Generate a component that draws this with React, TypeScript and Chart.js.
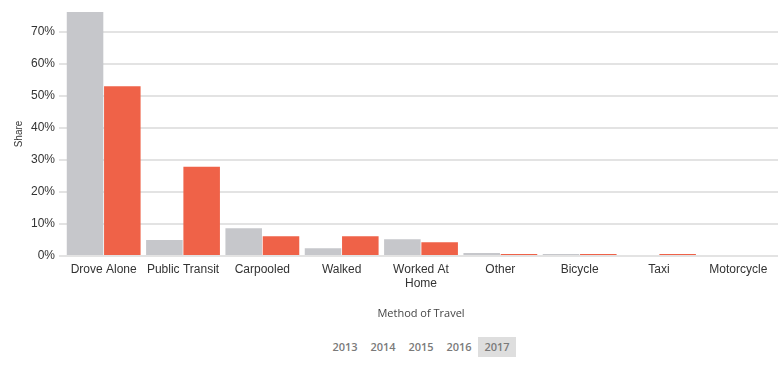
import React, { useEffect, useRef } from "react";
import { Chart, registerables } from "chart.js";

Chart.register(...registerables);

const categories: (string | string[])[] = [
  "Drove Alone",
  "Public Transit",
  "Carpooled",
  "Walked",
  ["Worked At", "Home"],
  "Other",
  "Bicycle",
  "Taxi",
  "Motorcycle",
];
const comparisonShare = [76.2, 5.0, 8.7, 2.4, 5.2, 0.9, 0.6, 0.3, 0.0];
const selectedShare = [53.0, 27.9, 6.2, 6.2, 4.3, 0.6, 0.6, 0.6, 0.0];
const yTicks = [0, 10, 20, 30, 40, 50, 60, 70];
const years = ["2013", "2014", "2015", "2016", "2017"];
const activeYear = "2017";

export default function App() {
  const ref = useRef<HTMLCanvasElement | null>(null);

  useEffect(() => {
    if (!ref.current) return;
    const chart = new Chart(ref.current, {
      type: "bar",
      data: {
        labels: categories,
        datasets: [
          {
            label: "Comparison",
            data: comparisonShare,
            backgroundColor: "#c6c7cb",
            categoryPercentage: 0.94,
            barPercentage: 0.98,
          },
          {
            label: "Selected",
            data: selectedShare,
            backgroundColor: "#ef6248",
            categoryPercentage: 0.94,
            barPercentage: 0.98,
          },
        ],
      },
      options: {
        animation: false,
        responsive: false,
        maintainAspectRatio: false,
        plugins: { legend: { display: false }, tooltip: { enabled: false } },
        layout: { padding: { top: 12, right: 6, left: 13, bottom: 0 } },
        scales: {
          x: {
            grid: { display: false, drawTicks: false },
            border: { display: false },
            ticks: {
              color: "#333",
              font: { family: "'Liberation Sans', Arial, sans-serif", size: 12 },
              maxRotation: 0,
              autoSkip: false,
              padding: 6,
            },
            title: {
              display: true,
              text: "Method of Travel",
              color: "#444",
              font: { family: "'Open Sans', sans-serif", size: 11 },
              padding: { top: 10, bottom: 0 },
            },
          },
          y: {
            min: 0,
            max: Math.max(...comparisonShare, ...selectedShare),
            afterBuildTicks: (axis: any) => {
              axis.ticks = yTicks.map((v) => ({ value: v }));
            },
            ticks: {
              color: "#333",
              font: { family: "'Liberation Sans', Arial, sans-serif", size: 12 },
              padding: 4,
              callback: (v: any) => v + "%",
            },
            grid: { color: "#e3e3e3", lineWidth: 2, tickLength: 5 },
            border: { display: false },
            title: {
              display: true,
              text: "Share",
              color: "#333",
              font: { family: "'Liberation Sans', Arial, sans-serif", size: 10 },
              padding: { top: 0, bottom: 2 },
            },
          },
        },
      },
    });
    return () => chart.destroy();
  }, []);

  return (
    <div style={{ position: "fixed", left: 0, top: 0, width: 784, height: 366, background: "#fff" }}>
      <canvas ref={ref} width={784} height={320} style={{ display: "block", width: 784, height: 320 }} />
      <div style={{ position: "absolute", top: 337, left: 326, display: "flex" }}>
        {years.map((y) => (
          <div
            key={y}
            style={{
              width: 38,
              height: 20,
              lineHeight: "20px",
              textAlign: "center",
              fontFamily: "'Open Sans', sans-serif",
              fontSize: 11,
              fontWeight: 600,
              color: "#7a7a7a",
              background: y === activeYear ? "#dedede" : "transparent",
            }}
          >
            {y}
          </div>
        ))}
      </div>
    </div>
  );
}
